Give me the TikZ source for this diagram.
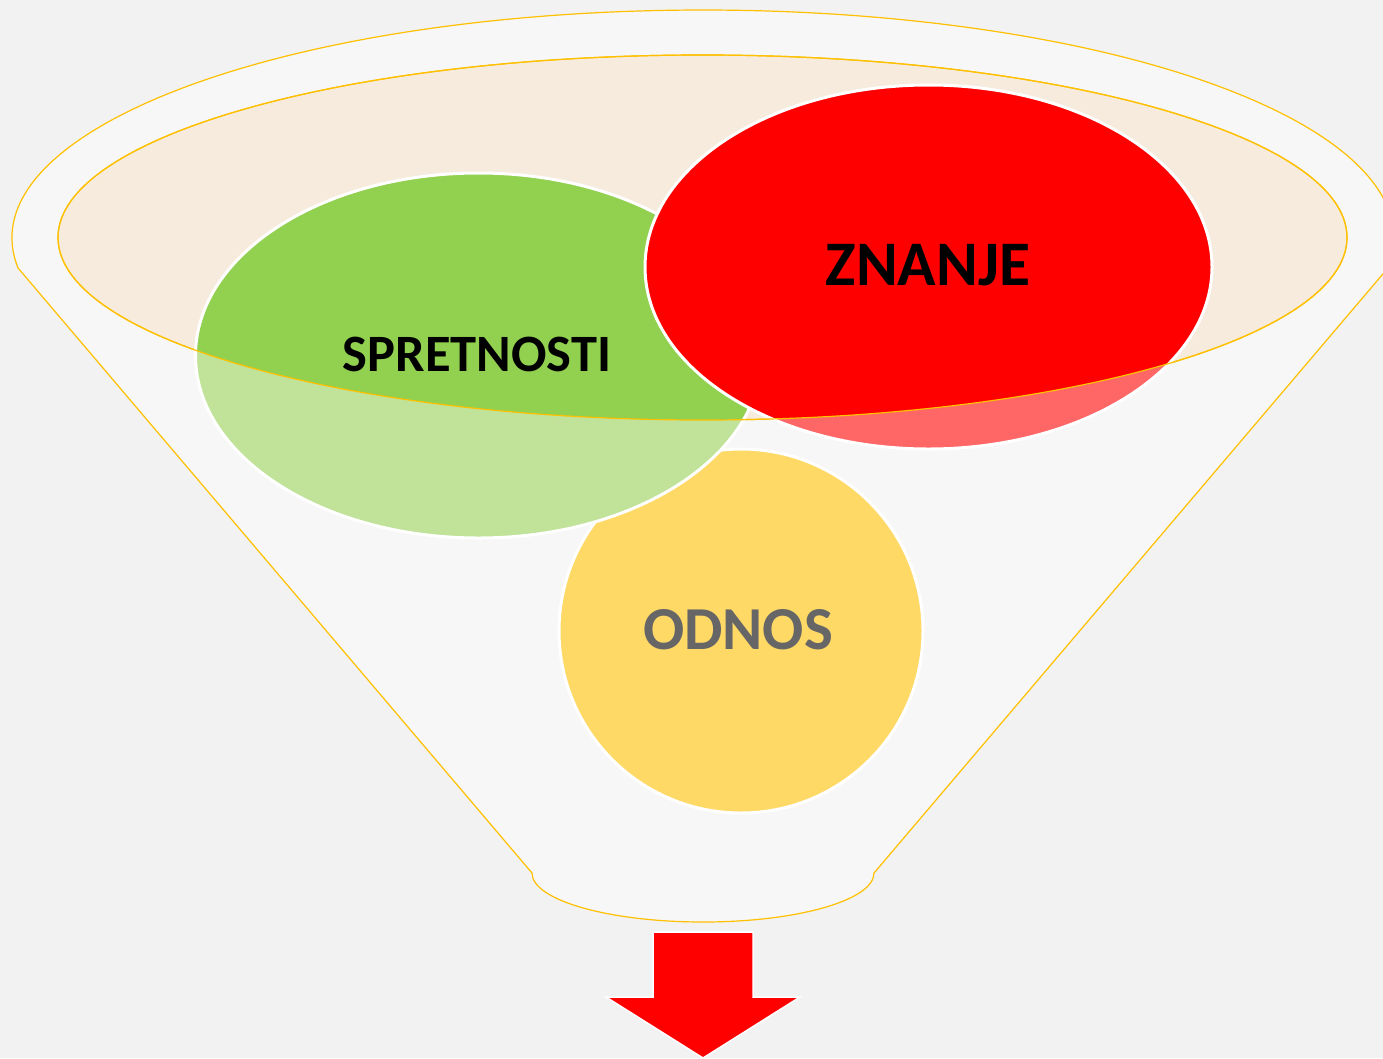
\documentclass[tikz,border=0pt]{standalone}
\usepackage{fontspec}
\setmainfont{Carlito}
\definecolor{bgc}{HTML}{F2F2F2}
\definecolor{funnelc}{HTML}{F7F7F7}
\definecolor{goldc}{HTML}{FFC000}
\definecolor{tanc}{HTML}{F7EBDD}
\definecolor{greenc}{HTML}{92D050}
\definecolor{greenl}{HTML}{C0E399}
\definecolor{redc}{HTML}{FF0000}
\definecolor{redl}{HTML}{FF6666}
\definecolor{yellowc}{HTML}{FFD966}
\definecolor{grayt}{HTML}{666666}
\tikzset{
  goldline/.style={draw=goldc, line width=1.2pt},
  bubbleedge/.style={draw=white, line width=3pt},
  lbl/.style={font=\bfseries, inner sep=0pt, anchor=base},
}
\begin{document}
\begin{tikzpicture}[x=1pt,y=-1pt]
\useasboundingbox (0,0) rectangle (1383,1058);
\fill[bgc] (0,0) rectangle (1383,1058);
% funnel body
\path[goldline, fill=funnelc]
  (703,238) ++(172.44:691 and 228) arc[start angle=172.44, end angle=367.56, x radius=691, y radius=228]
  -- (874,873) arc[start angle=0, end angle=180, x radius=171, y radius=49]
  -- cycle;
% inner opening
\path[goldline, fill=tanc] (702.5,237.5) ellipse[x radius=644.5, y radius=182.5];
% yellow circle
\node[circle, minimum size=364pt, inner sep=0pt, fill=yellowc, bubbleedge] (odnos) at (741,631) {};
% green ellipse
\path[fill=greenl] (478.5,355.5) ellipse[x radius=283, y radius=182.5];
\begin{scope}
  \clip (702.5,237.5) ellipse[x radius=644.5, y radius=182.5];
  \path[fill=greenc] (478.5,355.5) ellipse[x radius=283, y radius=182.5];
\end{scope}
\path[bubbleedge] (478.5,355.5) ellipse[x radius=283, y radius=182.5];
% red ellipse
\path[fill=redl] (928.5,267) ellipse[x radius=283.5, y radius=182];
\begin{scope}
  \clip (702.5,237.5) ellipse[x radius=644.5, y radius=182.5];
  \path[fill=redc] (928.5,267) ellipse[x radius=283.5, y radius=182];
\end{scope}
\path[bubbleedge] (928.5,267) ellipse[x radius=283.5, y radius=182];
% inner ellipse edge over bubbles
\path[goldline] (702.5,237.5) ellipse[x radius=644.5, y radius=182.5];
% labels
\node[lbl, font=\fontsize{52.5}{56}\selectfont\bfseries] (spr) at (477,371) {SPRETNOSTI};
\node[lbl, font=\fontsize{63.5}{68}\selectfont\bfseries] (zna) at (928,285) {ZNANJE};
\node[lbl, font=\fontsize{61}{66}\selectfont\bfseries, text=grayt] (odn) at (738,649) {ODNOS};
% arrow
\path[fill=redc, draw=white, line width=1.5pt]
  (653,932) -- (753,932) -- (753,997) -- (800,997) -- (703,1058) -- (606,997) -- (653,997) -- cycle;
\end{tikzpicture}
\end{document}
